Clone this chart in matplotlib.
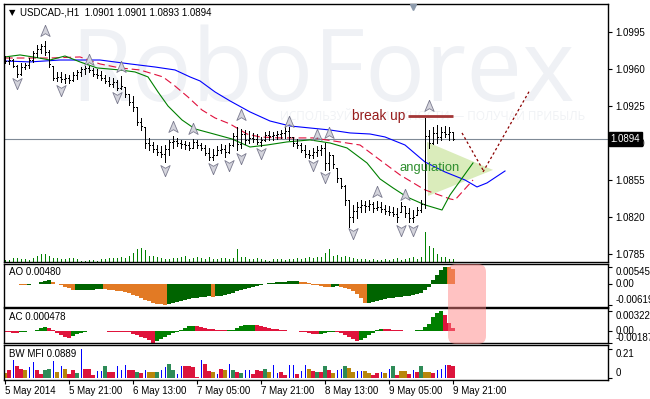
import numpy as np
import matplotlib
matplotlib.use("Agg")
import matplotlib.pyplot as plt
import matplotlib.transforms as mtransforms
from matplotlib.patches import FancyBboxPatch, Polygon
from matplotlib.path import Path

plt.rcParams['font.family'] = ['Liberation Sans', 'DejaVu Sans']
plt.rcParams['font.size'] = 7

W, H = 650, 399

# USDCAD H1, bar 0 = 5 May 05:00 ... bar 112 = 9 May 21:00
first_open = 1.0970
highs = [1.0973, 1.0972, 1.0970, 1.0964, 1.0966, 1.0966, 1.0971, 1.0977, 1.0983, 1.0984,
         1.0987, 1.0978, 1.0963, 1.0957, 1.0957, 1.0956, 1.0955, 1.0957, 1.0959, 1.0962,
         1.0963, 1.0963, 1.0961, 1.0960, 1.0958, 1.0955, 1.0953, 1.0952, 1.0950, 1.0954,
         1.0943, 1.0937, 1.0935, 1.0924, 1.0914, 1.0905, 1.0895, 1.0891, 1.0888, 1.0887,
         1.0888, 1.0893, 1.0897, 1.0895, 1.0893, 1.0892, 1.0891, 1.0894, 1.0893, 1.0890,
         1.0888, 1.0886, 1.0885, 1.0887, 1.0889, 1.0888, 1.0890, 1.0900, 1.0905, 1.0904,
         1.0903, 1.0902, 1.0900, 1.0899, 1.0896, 1.0901, 1.0902, 1.0901, 1.0902, 1.0903,
         1.0905, 1.0905, 1.0896, 1.0894, 1.0890, 1.0888, 1.0884, 1.0886, 1.0887, 1.0888,
         1.0890, 1.0882, 1.0879, 1.0867, 1.0857, 1.0851, 1.0836, 1.0832, 1.0834, 1.0836,
         1.0835, 1.0836, 1.0834, 1.0835, 1.0834, 1.0832, 1.0831, 1.0830, 1.0829, 1.0834,
         1.0831, 1.0829, 1.0827, 1.0830, 1.0836, 1.0914, 1.0903, 1.0905, 1.0907, 1.0905,
         1.0906, 1.0905, 1.0901]
lows = [1.0966, 1.0965, 1.0962, 1.0953, 1.0955, 1.0960, 1.0961, 1.0967, 1.0972, 1.0975,
        1.0974, 1.0962, 1.0950, 1.0949, 1.0948, 1.0947, 1.0947, 1.0949, 1.0951, 1.0954,
        1.0956, 1.0957, 1.0954, 1.0952, 1.0950, 1.0947, 1.0944, 1.0943, 1.0940, 1.0941,
        1.0934, 1.0926, 1.0921, 1.0907, 1.0903, 1.0886, 1.0884, 1.0882, 1.0879, 1.0877,
        1.0872, 1.0879, 1.0886, 1.0887, 1.0886, 1.0885, 1.0884, 1.0886, 1.0886, 1.0884,
        1.0879, 1.0874, 1.0874, 1.0879, 1.0881, 1.0877, 1.0881, 1.0887, 1.0884, 1.0886,
        1.0889, 1.0890, 1.0891, 1.0889, 1.0887, 1.0892, 1.0893, 1.0893, 1.0894, 1.0895,
        1.0895, 1.0893, 1.0887, 1.0886, 1.0882, 1.0877, 1.0876, 1.0876, 1.0878, 1.0879,
        1.0865, 1.0865, 1.0867, 1.0853, 1.0848, 1.0832, 1.0811, 1.0816, 1.0819, 1.0825,
        1.0825, 1.0827, 1.0825, 1.0827, 1.0825, 1.0823, 1.0822, 1.0821, 1.0816, 1.0825,
        1.0820, 1.0816, 1.0816, 1.0822, 1.0825, 1.0829, 1.0886, 1.0889, 1.0890, 1.0893,
        1.0896, 1.0893, 1.0893]
closes = [1.0968, 1.0969, 1.0963, 1.0956, 1.0962, 1.0964, 1.0969, 1.0975, 1.0979, 1.0982,
          1.0976, 1.0965, 1.0952, 1.0953, 1.0951, 1.0952, 1.0950, 1.0955, 1.0957, 1.0960,
          1.0961, 1.0959, 1.0956, 1.0955, 1.0952, 1.0949, 1.0946, 1.0948, 1.0942, 1.0944,
          1.0937, 1.0929, 1.0924, 1.0910, 1.0906, 1.0890, 1.0888, 1.0885, 1.0882, 1.0880,
          1.0885, 1.0891, 1.0892, 1.0890, 1.0889, 1.0888, 1.0886, 1.0891, 1.0888, 1.0886,
          1.0881, 1.0877, 1.0879, 1.0884, 1.0885, 1.0882, 1.0888, 1.0897, 1.0889, 1.0899,
          1.0893, 1.0895, 1.0894, 1.0891, 1.0893, 1.0898, 1.0897, 1.0898, 1.0899, 1.0900,
          1.0902, 1.0896, 1.0890, 1.0888, 1.0884, 1.0880, 1.0879, 1.0882, 1.0884, 1.0886,
          1.0871, 1.0879, 1.0870, 1.0857, 1.0850, 1.0836, 1.0820, 1.0826, 1.0830, 1.0832,
          1.0831, 1.0833, 1.0829, 1.0830, 1.0828, 1.0826, 1.0825, 1.0823, 1.0820, 1.0831,
          1.0824, 1.0819, 1.0820, 1.0827, 1.0833, 1.0897, 1.0890, 1.0900, 1.0896, 1.0901,
          1.0899, 1.0901, 1.0894]
volumes = [300, 300, 600, 600, 450, 450, 300, 600, 900, 1200,
           1200, 900, 600, 600, 450, 450, 600, 600, 450, 150,
           150, 300, 300, 150, 450, 450, 600, 600, 600, 750,
           600, 900, 1350, 1950, 2100, 1800, 900, 900, 750, 600,
           450, 450, 600, 600, 750, 900, 450, 600, 750, 600,
           450, 750, 450, 450, 600, 600, 450, 600, 1950, 750,
           750, 450, 450, 600, 450, 300, 150, 450, 450, 450,
           300, 450, 450, 600, 450, 600, 750, 600, 750, 750,
           1350, 1950, 900, 1050, 750, 900, 750, 600, 450, 450,
           450, 300, 450, 300, 300, 450, 300, 450, 600, 300,
           450, 600, 750, 450, 750, 4500, 2400, 2100, 1200, 750,
           750, 450, 450]

# Alligator (with the hand-drawn continuation at the right)
jaw_x = [0, 6.25, 13.75, 23.75, 31.25, 37.5, 42.5, 46.25, 48.75, 52.5, 56.25, 61.25, 66.25,
         71.25, 76.25, 81.25, 86.25, 91.25, 95, 100, 105, 110, 115, 118, 120.5, 125]
jaw_y = [1.09679, 1.09670, 1.09688, 1.09688, 1.09651, 1.09622, 1.09594, 1.09528, 1.09490,
         1.09386, 1.09301, 1.09197, 1.09111, 1.09064, 1.09045, 1.09026, 1.08998, 1.08988,
         1.08960, 1.08884, 1.08723, 1.08629, 1.08553, 1.08487, 1.08525, 1.08638]
teeth_x = [0, 11.25, 18.75, 23.75, 28.75, 33.75, 39.5, 42.5, 45.75, 49.25, 52.5, 56.25, 60.5,
           63.75, 68.75, 77, 83.75, 88.75, 93.75, 98.75, 105, 111.25, 112.5, 117]
teeth_y = [1.09707, 1.09707, 1.09717, 1.09651, 1.09613, 1.09594, 1.09528, 1.09442, 1.09338,
           1.09215, 1.09140, 1.09083, 1.08988, 1.08960, 1.08951, 1.08951, 1.08913, 1.08884,
           1.08742, 1.08601, 1.08459, 1.08374, 1.08364, 1.08553]
lips_x = [0, 3.75, 7, 11.25, 15, 18.75, 23, 28.75, 32.5, 35.75, 38.25, 40.75, 44.25, 47.5,
          51.25, 56.75, 61.25, 65.5, 70.5, 76.25, 81.25, 85.5, 90.5, 93.75, 97, 100.5, 105,
          109.25, 111.25, 117]
lips_y = [1.09717, 1.09736, 1.09717, 1.09688, 1.09726, 1.09670, 1.09613, 1.09594, 1.09575,
          1.09528, 1.09386, 1.09253, 1.09121, 1.09036, 1.08998, 1.08941, 1.08865, 1.08884,
          1.08913, 1.08932, 1.08903, 1.08856, 1.08714, 1.08563, 1.08478, 1.08392, 1.08317,
          1.08269, 1.08411, 1.08714]

# Fractals
up_frac_idx = [10, 21, 29, 42, 47, 59, 71, 78, 81, 93, 100, 106]
up_frac_price = [1.09963, 1.09688, 1.09622, 1.09055, 1.09036, 1.09168, 1.09102, 1.08979,
                 1.08998, 1.08440, 1.08411, 1.09253]
down_frac_idx = [3, 14, 28, 40, 52, 56, 59, 64, 77, 80, 87, 99, 102]
down_frac_price = [1.09471, 1.09405, 1.09338, 1.08648, 1.08667, 1.08695, 1.08761, 1.08809,
                   1.08695, 1.08582, 1.08052, 1.08080, 1.08080]

# Awesome oscillator
ao = [0.00025, 0.00025, 0.00016, 0.00006, -0.00016, -0.00019, -0.00009, 0.00006, 0.00025, 0.00057,
      0.00095, 0.0012, 0.00079, 0.00016, -0.00032, -0.00079, -0.0012, -0.00183, -0.00176, -0.00173,
      -0.0017, -0.00167, -0.00164, -0.00158, -0.00151, -0.00158, -0.00164, -0.00173, -0.00189, -0.00205,
      -0.00236, -0.00268, -0.00315, -0.00362, -0.0041, -0.00473, -0.00525, -0.0056, -0.0059, -0.0061,
      -0.00619, -0.006, -0.00575, -0.0055, -0.00515, -0.00485, -0.00455, -0.0043, -0.0041, -0.00395,
      -0.00383, -0.00372, -0.00384, -0.00365, -0.0035, -0.0032, -0.0029, -0.00255, -0.00215, -0.00183,
      -0.00153, -0.00122, -0.00092, -0.00061, -0.0003, 0.00009, 0.0003, 0.00046, 0.00061, 0.0007,
      0.00082, 0.00092, 0.00098, 0.00104, 0.00085, 0.00061, 0.0003, -0.00009, -0.0003, -0.00061,
      -0.00082, -0.00088, -0.0007, -0.00058, -0.00076, -0.00107, -0.00152, -0.00213, -0.00305, -0.00427,
      -0.0058, -0.0057, -0.0054, -0.0051, -0.00473, -0.00445, -0.00424, -0.00406, -0.0039, -0.00378,
      -0.00372, -0.00366, -0.00335, -0.00311, -0.00275, -0.00183, -0.00082, 0.00122, 0.00275, 0.00427,
      0.00545, 0.0053, 0.0048]

# Accelerator oscillator
ac = [-0.00016, -0.00021, -0.00024, -0.00027, -0.00019, -0.00013, -0.00006, 0.00008, 0.00024, 0.00045,
      0.00061, 0.00048, 0.00016, -0.00024, -0.00056, -0.00089, -0.00105, -0.00072, -0.00048, -0.00024,
      -0.00008, 0.00005, 0.00003, -0.00003, 0.00005, -0.00005, -0.00008, -0.0001, -0.00011, -0.00013,
      -0.00016, -0.00019, -0.0004, -0.00064, -0.00089, -0.00113, -0.00145, -0.00187, -0.00153, -0.00129,
      -0.00097, -0.00064, -0.00032, -0.00008, 0.00024, 0.00056, 0.00081, 0.00084, 0.00081, 0.00064,
      0.00052, 0.0004, 0.00029, 0.00021, 0.00013, 0.0001, 0.00011, 0.00024, 0.00048, 0.00081,
      0.00097, 0.00101, 0.00105, 0.001, 0.00081, 0.00064, 0.00052, 0.0004, 0.00029, 0.00019,
      0.00013, 0.00008, 0.00005, 0.00002, -0.00008, -0.00016, -0.00032, -0.00048, -0.00053, -0.0004,
      -0.00024, -0.00019, -0.00016, -0.00019, -0.00032, -0.00064, -0.00097, -0.00129, -0.00161, -0.00145,
      -0.00113, -0.00064, -0.00024, 0.00016, 0.0004, 0.00035, 0.00029, 0.00023, 0.00016, 0.0001,
      0.00006, 0.00003, 0.00005, 0.0001, 0.00019, 0.00064, 0.00113, 0.00225, 0.0029, 0.003228,
      0.00269, 0.00124, 0.000478]

# Market Facilitation Index and its bar type (g=green, o=fade, b=fake, r=squat)
mfi = [0.036, 0.058, 0.130, 0.087, 0.065, 0.058, 0.080, 0.116, 0.058, 0.029,
       0.058, 0.065, 0.123, 0.043, 0.087, 0.065, 0.029, 0.058, 0.036, 0.210,
       0.065, 0.065, 0.022, 0.051, 0.051, 0.087, 0.043, 0.043, 0.087, 0.058,
       0.094, 0.058, 0.058, 0.043, 0.036, 0.058, 0.043, 0.043, 0.043, 0.058,
       0.080, 0.101, 0.058, 0.029, 0.087, 0.087, 0.087, 0.080, 0.007, 0.130,
       0.101, 0.051, 0.043, 0.029, 0.065, 0.058, 0.101, 0.058, 0.043, 0.036,
       0.058, 0.058, 0.029, 0.058, 0.051, 0.065, 0.043, 0.094, 0.036, 0.043,
       0.022, 0.094, 0.094, 0.029, 0.051, 0.094, 0.065, 0.051, 0.043, 0.043,
       0.087, 0.058, 0.036, 0.058, 0.065, 0.087, 0.072, 0.043, 0.051, 0.051,
       0.051, 0.036, 0.022, 0.036, 0.043, 0.036, 0.065, 0.087, 0.022, 0.051,
       0.051, 0.029, 0.058, 0.043, 0.087, 0.043, 0.043, 0.036, 0.058, 0.065,
       0.094, 0.094, 0.0889]
mfi_type = ("orbrrobbrr" "ggboborrgb" "rrrbbgrrbb" "brrgrboogb" "bggbbrrrrb"
            "rrobrobgrg" "bbrrrgobbr" "rbbrbborgr" "grobbgoobb" "oorrbobgro"
            "orbrgoorbb" "brr")

# analyst drawings
breakup_level = 1.0916
breakup_x = [100.75, 112]
triangle_x = [105.5, 105.75, 122]
triangle_y = [1.08913, 1.08402, 1.08648]
fc_down_x = [114.25, 119.5]
fc_down_y = [1.08998, 1.08648]
fc_up_x = [119.5, 131.25]
fc_up_y = [1.08629, 1.09405]

last_price = 1.0894
price_ticks = [1.0995, 1.0960, 1.0925, 1.0890, 1.0855, 1.0820, 1.0785]
time_ticks = [0, 16, 32, 48, 64, 80, 96, 112]
time_labels = ['5 May 2014', '5 May 21:00', '6 May 13:00', '7 May 05:00',
               '7 May 21:00', '8 May 13:00', '9 May 05:00', '9 May 21:00']

XLIM = (-0.25, 150.75)


def panel(top, bottom):
    return [4 / W, 1 - bottom / H, 604 / W, (bottom - top) / H]


def style_panel(a):
    a.set_xlim(*XLIM)
    for s in a.spines.values():
        s.set_linewidth(1.0)
        s.set_color('black')
    a.yaxis.tick_right()
    a.tick_params(axis='y', direction='out', length=3, width=0.8, pad=2.5, labelsize=7)
    a.tick_params(axis='x', bottom=False, labelbottom=False)


fig = plt.figure(figsize=(W / 100, H / 100), dpi=100)
fig.patch.set_facecolor('white')

idx = np.arange(len(highs))
closes_a = np.array(closes)
opens = np.clip(np.r_[first_open, closes_a[:-1]], lows, highs)

# volume + watermark layer (behind the price axes)
vax = fig.add_axes(panel(4, 262))
vax.set_xlim(*XLIM)
vax.set_ylim(0, 38700)
vax.axis('off')
vax.vlines(idx, 0, volumes, color='#008000', lw=0.72, antialiased=False)
vax.text(0.497, 0.748, 'RoboForex', transform=fig.transFigure, ha='center', va='baseline',
         fontsize=72, family='Open Sans', color='#eff1f5', zorder=0)
vax.text(585 / W, 1 - 117 / H, 'ИСПОЛЬЗУЙ ВОЗМОЖНОСТИ — ПОЛУЧАЙ ПРИБЫЛЬ', transform=fig.transFigure,
         ha='right', va='center', fontsize=8.5, family='Open Sans', color='#f0f2f5', zorder=0)

# price panel
ax = fig.add_axes(panel(4, 262), sharex=vax)
ax.patch.set_alpha(0)
style_panel(ax)
ax.set_ylim(1.07777, 1.10218)
ax.set_yticks(price_ticks)
ax.set_yticklabels([f'{p:.4f}' for p in price_ticks])

ax.add_patch(Polygon(list(zip(triangle_x, triangle_y)), closed=True, facecolor='#d6eab4',
                     edgecolor='none', alpha=0.9, zorder=1))
ax.axhline(last_price, color='#7f8a96', lw=0.8, zorder=1)

ax.plot(jaw_x, jaw_y, color='#0000ff', lw=0.8, zorder=2)
ax.plot(teeth_x, teeth_y, color='#e0103c', lw=0.8, dashes=(7, 3.5), zorder=2)
ax.plot(lips_x, lips_y, color='#008000', lw=0.8, zorder=2)

ax.vlines(idx, lows, highs, color='black', lw=0.72, antialiased=False, zorder=3)
ax.hlines(opens, idx - 0.3, idx, color='black', lw=0.72, antialiased=False, zorder=3)
ax.hlines(closes, idx, idx + 0.3, color='black', lw=0.72, antialiased=False, zorder=3)

up_arrow = [(0, 1), (0.75, -0.8), (0, -0.35), (-0.75, -0.8), (0, 1)]
down_arrow = [(x, -y) for x, y in up_arrow]
ax.scatter(up_frac_idx, up_frac_price, marker=up_arrow, s=80, facecolor='#d4d4dc',
           edgecolor='#7c7c90', linewidth=0.6, zorder=4)
ax.scatter(down_frac_idx, down_frac_price, marker=down_arrow, s=80, facecolor='#d4d4dc',
           edgecolor='#7c7c90', linewidth=0.6, zorder=4)

ax.hlines(breakup_level, breakup_x[0], breakup_x[1], color='#a33636', lw=2, zorder=4)
ax.text(100, breakup_level, 'break up', ha='right', va='center', fontsize=9.8,
        color='#961b1b', zorder=4)
ax.text(98.5, 1.0867, 'angulation', ha='left', va='center', fontsize=9.4,
        color='#2f8f2f', zorder=4)
ax.plot(fc_down_x, fc_down_y, color='#8b0000', lw=0.9, dashes=(2, 2), zorder=4)
ax.plot(fc_up_x, fc_up_y, color='#8b0000', lw=0.9, dashes=(2, 2), zorder=4)

ax.text(1.004, last_price, f'{last_price:.4f}',
        transform=mtransforms.blended_transform_factory(ax.transAxes, ax.transData),
        ha='left', va='center', color='white', fontsize=7, clip_on=False, zorder=6,
        bbox=dict(boxstyle='square,pad=0.18', facecolor='black', edgecolor='black'))
ax.plot([102], [1.1019], marker='v', ms=5, color='#8c9aac', clip_on=False, zorder=6)

# AO panel
ao_ax = fig.add_axes(panel(263.5, 306.5), sharex=vax)
style_panel(ao_ax)
ao_ax.set_ylim(-0.0068, 0.0064)
ao_a = np.array(ao)
ao_up = np.r_[False, ao_a[1:] > ao_a[:-1]]
ao_ax.bar(idx, ao_a, width=0.78, color=np.where(ao_up, '#006400', '#e27a24'), linewidth=0)
ao_ax.set_yticks([0.00545, 0.0, -0.00619])
ao_ax.set_yticklabels(['0.00545', '0.00', '-0.00619'])
for lbl, va in zip(ao_ax.get_yticklabels(), ['top', 'center', 'bottom']):
    lbl.set_va(va)

# AC panel
ac_ax = fig.add_axes(panel(308, 343.3), sharex=vax)
style_panel(ac_ax)
ac_ax.set_ylim(-0.00198, 0.00375)
ac_a = np.array(ac)
ac_up = np.r_[False, ac_a[1:] > ac_a[:-1]]
ac_ax.bar(idx, ac_a, width=0.78, color=np.where(ac_up, '#008000', '#e0143c'), linewidth=0)
ac_ax.set_yticks([0.003228, 0.0, -0.00187])
ac_ax.set_yticklabels(['0.003228', '0.00', '-0.00187'])
for lbl, va in zip(ac_ax.get_yticklabels(), ['top', 'center', 'bottom']):
    lbl.set_va(va)

# BW MFI panel
mfi_ax = fig.add_axes(panel(345, 380), sharex=vax)
style_panel(mfi_ax)
mfi_ax.set_ylim(-0.0123, 0.241)
mfi_colors = {'g': '#2e8b57', 'o': '#b8860b', 'r': '#dc143c', 'b': '#0000ff'}
mfi_width = {'g': 0.78, 'o': 0.78, 'r': 0.78, 'b': 0.25}
mfi_ax.bar(idx, mfi, width=[mfi_width[k] for k in mfi_type],
           color=[mfi_colors[k] for k in mfi_type], linewidth=0)
mfi_ax.set_yticks([0.21, 0.0])
mfi_ax.set_yticklabels(['0.21', '0'])
for lbl, va in zip(mfi_ax.get_yticklabels(), ['top', 'bottom']):
    lbl.set_va(va)
mfi_ax.set_xticks(time_ticks)
mfi_ax.set_xticklabels(time_labels, ha='left')
mfi_ax.tick_params(axis='x', bottom=True, labelbottom=True, direction='out', length=3,
                   width=0.8, pad=1.5, labelsize=7)

# panel captions
fig.text(9 / W, 1 - 12.5 / H, '▼', family=['DejaVu Sans'], fontsize=6, va='center')
fig.text(20 / W, 1 - 12.5 / H, 'USDCAD-,H1  1.0901 1.0901 1.0893 1.0894', fontsize=7, va='center')
fig.text(9 / W, 1 - 272 / H, 'AO 0.00480', fontsize=7, va='center')
fig.text(9 / W, 1 - 317 / H, 'AC 0.000478', fontsize=7, va='center')
fig.text(9 / W, 1 - 354 / H, 'BW MFI 0.0889', fontsize=7, va='center')

# highlighted AO/AC ending
fig.add_artist(FancyBboxPatch((448, H - 344), 38, 80, boxstyle='round,pad=0,rounding_size=8',
                              transform=mtransforms.IdentityTransform(), facecolor='#ff8080',
                              edgecolor='none', alpha=0.48, zorder=5))

fig.savefig('out.png', dpi=100, facecolor='white')
